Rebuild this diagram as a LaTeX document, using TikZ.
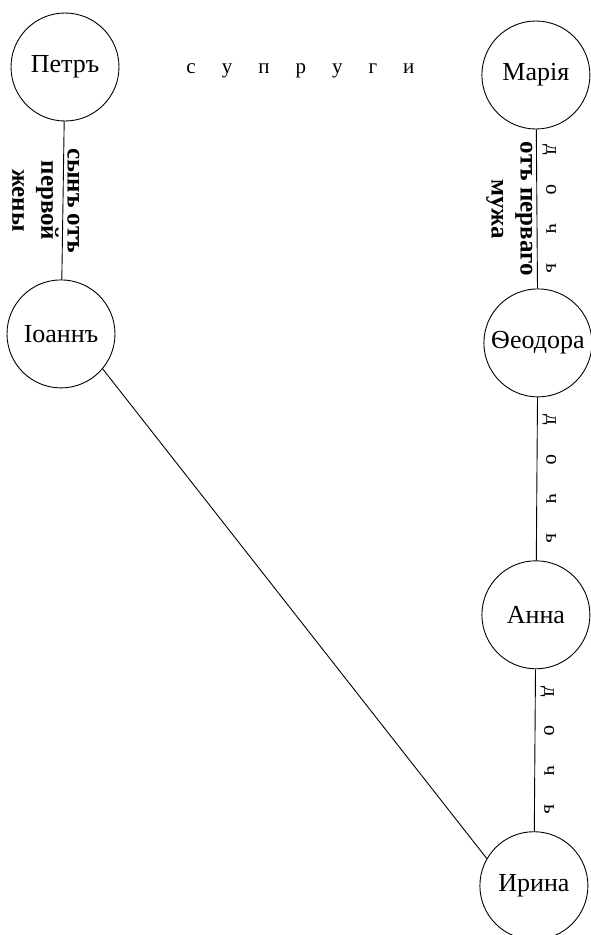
\documentclass[tikz,border=0pt]{standalone}
\usepackage{fontspec}
\setmainfont{Liberation Serif}
\usetikzlibrary{positioning}

\newcommand{\doch}{д\hspace{29pt}о\hspace{29pt}ч\hspace{29pt}ь}

\begin{document}
\begin{tikzpicture}[x=1pt, y=1pt, node distance=160pt,
        person/.style={circle, draw, line width=0.9pt, minimum size=108pt, inner sep=1pt, font=\fontsize{26}{30}\selectfont},
        kin/.style={rotate=-90, inner sep=4pt, align=center, font=\bfseries\fontsize{25}{29}\selectfont},
        spaced/.style={rotate=-90, inner sep=5pt, font=\fontsize{21}{25}\selectfont},
        link/.style={line width=0.9pt}]

    \useasboundingbox (-65,67) rectangle (526,-868);

    \node[person] (petr) {Петръ};
    \node[person, right=362pt of petr, yshift=-8pt] (maria) {Марія};
    \node[person, below=158pt of petr, xshift=-4pt] (ioann) {Іоаннъ};
    \node[person, below=159pt of maria, xshift=2pt] (feodora) {Ѳеодора};
    \node[person, below=163pt of feodora, xshift=-2pt] (anna) {Анна};
    \node[person, below=162pt of anna, xshift=-2pt] (irina) {Ирина};

    \path (petr) -- node[font=\fontsize{21}{25}\selectfont] {с\hspace{26pt}у\hspace{26pt}п\hspace{26pt}р\hspace{26pt}у\hspace{26pt}г\hspace{26pt}и} (maria);

    \draw[link] (petr) -- node[kin, anchor=south] {сынъ отъ} node[kin, anchor=north] {первой\\жены} (ioann);
    \draw[link] (maria) -- node[spaced, anchor=south] {\doch} node[kin, anchor=north] {отъ перваго\\мужа} (feodora);
    \draw[link] (feodora) -- node[spaced, anchor=south] {\doch} (anna);
    \draw[link] (anna) -- node[spaced, anchor=south] {\doch} (irina);
    \draw[link] (ioann.-40) -- (irina.150);
\end{tikzpicture}
\end{document}
